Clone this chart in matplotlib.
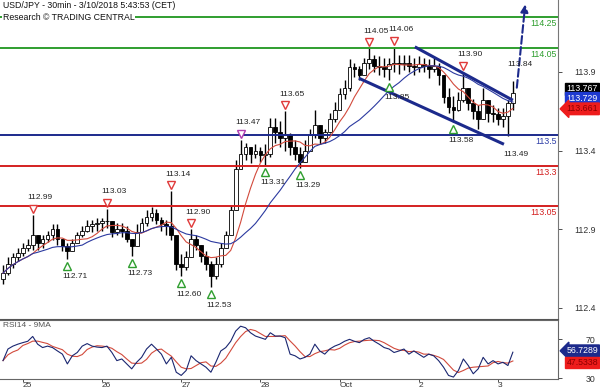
import numpy as np
import pandas as pd
import matplotlib
matplotlib.use("Agg")
import matplotlib.pyplot as plt
from matplotlib.transforms import offset_copy

plt.rcParams['font.family'] = ['Liberation Sans', 'DejaVu Sans']

# 90-min bars (16 bars per day)
first_open = 112.58
highs = [112.67, 112.72, 112.75, 112.78, 112.81, 112.84, 112.99, 112.86, 112.86, 112.89,
         112.93, 112.93, 112.84, 112.81, 112.84, 112.88, 112.92, 112.96, 112.96, 112.97,
         112.97, 113.03, 112.94, 112.94, 112.94, 112.92, 112.84, 112.93, 112.97, 113.02,
         113.04, 113.03, 112.98, 112.96, 113.14, 112.86, 112.74, 112.76, 112.90, 112.86,
         112.80, 112.76, 112.70, 112.72, 112.81, 112.89, 113.05, 113.34, 113.47, 113.45,
         113.42, 113.44, 113.42, 113.44, 113.61, 113.61, 113.59, 113.65, 113.51, 113.47,
         113.42, 113.47, 113.54, 113.66, 113.56, 113.54, 113.64, 113.71, 113.80, 113.85,
         113.98, 113.96, 113.94, 113.99, 114.05, 114.01, 114.00, 113.99, 113.99, 114.06,
         114.01, 114.01, 114.01, 113.99, 114.00, 113.99, 113.98, 113.99, 113.96, 113.88,
         113.80, 113.75, 113.77, 113.90, 113.80, 113.73, 113.69, 113.80, 113.72, 113.69,
         113.67, 113.67, 113.72, 113.84]
lows = [112.55, 112.61, 112.65, 112.70, 112.73, 112.76, 112.77, 112.77, 112.78, 112.82,
        112.83, 112.80, 112.76, 112.71, 112.76, 112.81, 112.85, 112.88, 112.88, 112.89,
        112.89, 112.91, 112.85, 112.86, 112.85, 112.82, 112.73, 112.79, 112.88, 112.92,
        112.95, 112.93, 112.89, 112.86, 112.83, 112.64, 112.60, 112.64, 112.76, 112.77,
        112.69, 112.64, 112.53, 112.58, 112.66, 112.78, 112.86, 113.02, 113.31, 113.34,
        113.32, 113.35, 113.33, 113.31, 113.36, 113.45, 113.42, 113.40, 113.37, 113.34,
        113.29, 113.33, 113.40, 113.48, 113.44, 113.45, 113.51, 113.58, 113.66, 113.73,
        113.78, 113.87, 113.85, 113.88, 113.92, 113.90, 113.88, 113.87, 113.85, 113.90,
        113.89, 113.91, 113.90, 113.88, 113.90, 113.90, 113.86, 113.90, 113.82, 113.70,
        113.64, 113.58, 113.65, 113.71, 113.66, 113.60, 113.54, 113.62, 113.58, 113.58,
        113.56, 113.55, 113.49, 113.66]
closes = [112.62, 112.68, 112.72, 112.75, 112.78, 112.80, 112.86, 112.81, 112.84, 112.86,
          112.90, 112.84, 112.79, 112.76, 112.81, 112.86, 112.89, 112.92, 112.93, 112.94,
          112.95, 112.95, 112.88, 112.90, 112.89, 112.84, 112.79, 112.88, 112.94, 112.98,
          113.00, 112.96, 112.93, 112.92, 112.86, 112.68, 112.66, 112.72, 112.84, 112.80,
          112.73, 112.68, 112.60, 112.68, 112.78, 112.86, 113.02, 113.28, 113.38, 113.42,
          113.38, 113.40, 113.37, 113.38, 113.55, 113.52, 113.48, 113.50, 113.42, 113.38,
          113.33, 113.40, 113.50, 113.56, 113.48, 113.52, 113.60, 113.66, 113.76, 113.80,
          113.93, 113.92, 113.88, 113.96, 113.98, 113.94, 113.93, 113.92, 113.95, 113.96,
          113.95, 113.96, 113.94, 113.93, 113.95, 113.94, 113.92, 113.94, 113.88, 113.74,
          113.68, 113.66, 113.72, 113.80, 113.70, 113.65, 113.60, 113.72, 113.64, 113.63,
          113.60, 113.62, 113.70, 113.767]
rsi = [48, 60, 63, 65, 66.6, 68, 73, 65, 61.5, 63,
       61.5, 58, 54.7, 44.6, 53, 56.4, 63, 65.6, 63, 62,
       61.5, 63, 56.4, 48, 49.7, 44.6, 39.5, 46.3, 51.4, 60,
       65, 60, 54.7, 44.6, 51.4, 36, 32.7, 37.8, 53, 48,
       44.6, 41.2, 36, 46.3, 58, 61.5, 68, 78.5, 83.6, 82,
       76.8, 73.4, 71.7, 70, 76.8, 73.4, 73.4, 71.7, 54.7, 53,
       49.7, 51.4, 54.7, 65, 58, 54.7, 60, 63, 65, 68,
       70, 68, 66.6, 70, 71.7, 68, 65, 61.5, 60, 56.4,
       58, 60, 54.7, 58, 54.7, 51.4, 54.7, 53, 48, 41.2,
       32.7, 31, 37.8, 49.7, 42.9, 34.4, 39.5, 51.4, 44.6, 48,
       44.6, 46.3, 42.9, 56.7]

day_ticks = [4, 20, 36, 52, 68, 84, 100]
day_labels = ["25", "26", "27", "28", "Oct", "2", "3"]

levels_green = [114.25, 114.05]
levels_blue = [113.5]
levels_red = [113.3, 113.05]

tops = [(6, 112.99), (21, 113.03), (34, 113.14), (38, 112.90), (57, 113.65),
        (74, 114.05), (79, 114.06), (93, 113.90)]
top_magenta = [(48, 113.47)]
bottoms = [(13, 112.71), (26, 112.73), (36, 112.60), (42, 112.53), (53, 113.31),
           (60, 113.29), (78, 113.85), (91, 113.58)]
plain_labels = [(103, 113.84, "up"), (102, 113.49, "down")]

channel_upper = ([83.2, 103.0], [114.06, 113.72])
channel_lower = ([71.9, 101.2], [113.86, 113.44])
target_arrow = ((103.8, 113.80), (105.5, 114.33))

last_price = "113.767"
ma_blue_txt = "113.729"
ma_red_txt = "113.661"
rsi_txt = "56.7289"
rsi_ma_txt = "47.5338"

GREEN = '#2f9e2f'
RED = '#d42020'
NAVY = '#1c2a8c'
MA_RED = '#d24a3c'
MA_BLUE = '#2c3aa0'

highs = np.array(highs)
lows = np.array(lows)
closes = np.array(closes)
opens = np.r_[first_open, closes[:-1]]
x = np.arange(len(closes))

fig = plt.figure(figsize=(6, 3.92), dpi=100)
ax = fig.add_axes([0, 73 / 392, 558 / 600, 319 / 392])
ax2 = fig.add_axes([0, 13 / 392, 558 / 600, 59 / 392])

# candles
top = np.maximum(highs, np.maximum(opens, closes))
bot = np.minimum(lows, np.minimum(opens, closes))
ax.vlines(x, bot, top, color='black', lw=1.0, zorder=2)
up = closes >= opens
ax.bar(x[up], (closes - opens)[up], bottom=opens[up], width=0.75,
       color='white', edgecolor='black', lw=0.6, zorder=2)
ax.bar(x[~up], (closes - opens)[~up], bottom=opens[~up], width=0.75,
       color='black', edgecolor='black', lw=0.6, zorder=2)

s = pd.Series(closes)
ma_red = s.rolling(7, min_periods=1).mean()
ma_blue = s.rolling(17, min_periods=1).mean()
ax.plot(x, ma_red, color=MA_RED, lw=0.8, zorder=4)
ax.plot(x, ma_blue, color=MA_BLUE, lw=0.8, zorder=4)

for lv in levels_green:
    ax.axhline(lv, color=GREEN, lw=1.4, zorder=3)
for lv in levels_blue:
    ax.axhline(lv, color=NAVY, lw=1.4, zorder=3)
for lv in levels_red:
    ax.axhline(lv, color=RED, lw=1.4, zorder=3)

lvl_tr = offset_copy(ax.transData, fig=fig, x=0, y=-2, units='dots')
for lvs, c in [(levels_green, GREEN), (levels_blue, '#3040a8'), (levels_red, RED)]:
    for lv in lvs:
        ax.text(111.9, lv, f"{lv:g}", color=c, fontsize=6.3, ha='right', va='top',
                transform=lvl_tr, zorder=5)

ax.plot(*channel_upper, color=NAVY, lw=2.2, zorder=5, solid_capstyle='butt')
ax.plot(*channel_lower, color=NAVY, lw=2.2, zorder=5, solid_capstyle='butt')

ax.annotate('', xy=target_arrow[1], xytext=target_arrow[0],
            arrowprops=dict(arrowstyle='-|>', color=NAVY, lw=1.5, linestyle='--',
                            mutation_scale=11, shrinkA=0, shrinkB=0), zorder=6)

# swing markers
tri_up = offset_copy(ax.transData, fig=fig, x=0, y=6, units='dots')
lab_up = offset_copy(ax.transData, fig=fig, x=7, y=17, units='dots')
tri_dn = offset_copy(ax.transData, fig=fig, x=0, y=-7, units='dots')
lab_dn = offset_copy(ax.transData, fig=fig, x=8, y=-18, units='dots')
for i, v in tops:
    ax.plot(i, v, marker='v', ms=6, mfc='white', mec='#e03a3a', mew=1.0,
            transform=tri_up, zorder=7)
    ax.text(i, v, f"{v:.2f}", fontsize=6, color='#222222', ha='center', va='center',
            transform=lab_up, zorder=7)
for i, v in top_magenta:
    ax.plot(i, v, marker='v', ms=6, mfc='white', mec='#b03cb0', mew=1.0,
            transform=tri_up, zorder=7)
    ax.text(i, v, f"{v:.2f}", fontsize=6, color='#222222', ha='center', va='center',
            transform=lab_up, zorder=7)
for i, v in bottoms:
    ax.plot(i, v, marker='^', ms=6, mfc='white', mec='#2f9e2f', mew=1.0,
            transform=tri_dn, zorder=7)
    ax.text(i, v, f"{v:.2f}", fontsize=6, color='#222222', ha='center', va='center',
            transform=lab_dn, zorder=7)
for i, v, side in plain_labels:
    tr = lab_up if side == "up" else lab_dn
    ax.text(i, v, f"{v:.2f}", fontsize=6, color='#222222', ha='center', va='center',
            transform=tr, zorder=7)

ax.set_xlim(-0.606, 112.12)
ax.set_ylim(112.328, 114.358)
ax.yaxis.tick_right()
ax.set_yticks([112.4, 112.9, 113.4, 113.9])
ax.set_yticklabels(["112.4", "112.9", "113.4", "113.9"], ha='right')
ax.tick_params(axis='y', length=3, pad=24, labelsize=6.3, colors='#333333', width=0.6)
ax.set_xticks([])
for sp in ['top', 'left']:
    ax.spines[sp].set_visible(False)
ax.spines['right'].set_color('#777777')
ax.spines['bottom'].set_color('#555555')
ax.spines['right'].set_linewidth(0.8)
ax.spines['bottom'].set_linewidth(0.8)

# price boxes on the right axis
def side_box(a, val, txt, fc, tc, dy, arrow=False):
    style = 'larrow,pad=0.15' if arrow else 'square,pad=0.15'
    a.annotate(txt, xy=(1.0, val), xycoords=('axes fraction', 'data'),
               xytext=(6, dy), textcoords='offset points', fontsize=6.3,
               color=tc, ha='left', va='center', annotation_clip=False,
               bbox=dict(boxstyle=style, fc=fc, ec=fc))

side_box(ax, float(last_price), last_price, 'black', 'white', 3)
side_box(ax, float(ma_blue_txt), ma_blue_txt, '#1e3ad0', 'white', 0.5)
side_box(ax, float(ma_red_txt), ma_red_txt, '#ee1c1c', '#8a0000', 0.5, arrow=True)

fig.text(3 / 600, 1 - 6 / 392, "USD/JPY - 30min - 3/10/2018 5:43:53 (CET)", fontsize=6.3,
         color='#111111', va='center', ha='left',
         bbox=dict(fc='white', ec='none', pad=0.5))
fig.text(3 / 600, 1 - 17 / 392, "Research \u00a9 TRADING CENTRAL", fontsize=6.3,
         color='#111111', va='center', ha='left',
         bbox=dict(fc='white', ec='none', pad=0.5))

# RSI panel
rsi_s = pd.Series(rsi)
rsi_ma = rsi_s.rolling(4, min_periods=1).mean()
ax2.plot(x, rsi_ma, color=MA_RED, lw=0.8)
ax2.plot(x, rsi_s, color='#1a2670', lw=0.8)
ax2.set_xlim(-0.606, 112.12)
ax2.set_ylim(29, 90)
ax2.yaxis.tick_right()
ax2.set_yticks([30, 70])
ax2.set_yticklabels(["30", "70"], ha='right')
ax2.tick_params(axis='y', length=3, pad=24, labelsize=6.3, colors='#333333', width=0.6)
ax2.set_xticks(day_ticks)
ax2.set_xticklabels(day_labels, ha='left')
ax2.tick_params(axis='x', length=2, pad=0, labelsize=6, colors='#333333', width=0.6)
ax2.spines['left'].set_visible(False)
for sp in ['top', 'right', 'bottom']:
    ax2.spines[sp].set_color('#666666')
    ax2.spines[sp].set_linewidth(0.8)
ax2.text(3 / 558, 0.9, "RSI14 - 9MA", transform=ax2.transAxes, fontsize=6,
         color='#555555', va='center', ha='left')
side_box(ax2, float(rsi_txt), rsi_txt, '#1c2a8c', 'white', 1, arrow=True)
side_box(ax2, float(rsi_ma_txt), rsi_ma_txt, '#ee1c1c', '#8a0000', -1)

fig.savefig("out.png", dpi=100)
